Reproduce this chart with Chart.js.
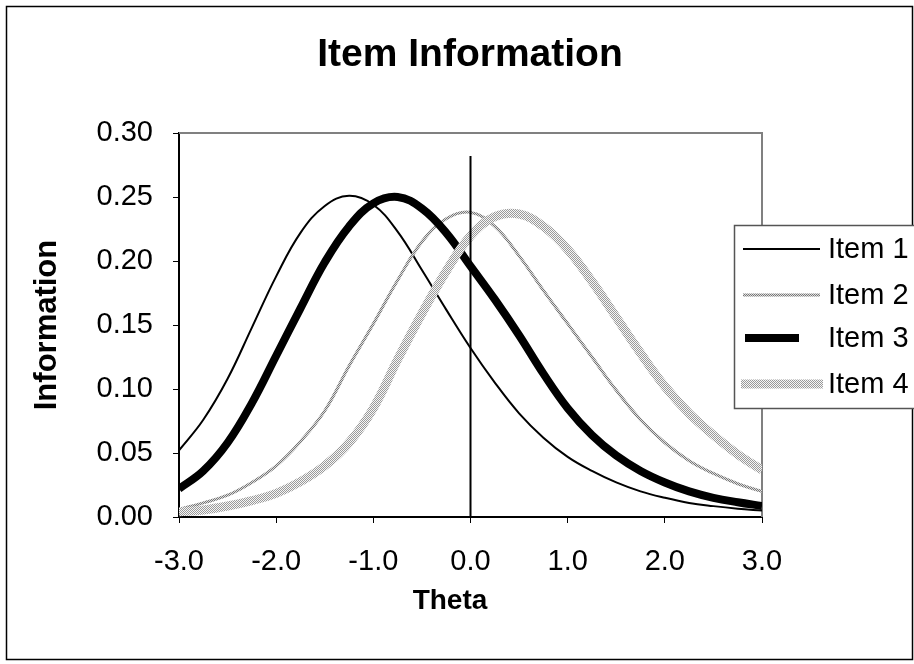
<!DOCTYPE html>
<html>
<head>
<meta charset="utf-8">
<title>Item Information</title>
<script src="https://cdn.jsdelivr.net/npm/chart.js@4/dist/chart.umd.min.js"></script>
<style>
  html, body { margin: 0; padding: 0; background: #fff; }
  canvas { display: block; }
</style>
</head>
<body>
<canvas id="infoChart" width="914" height="664"></canvas>
<script>
// Item information curves at theta steps of 0.25
const theta = [-3.0, -2.75, -2.5, -2.25, -2.0, -1.75, -1.5, -1.25, -1.0, -0.75, -0.5, -0.25,
               0.0, 0.25, 0.5, 0.75, 1.0, 1.25, 1.5, 1.75, 2.0, 2.25, 2.5, 2.75, 3.0];
const item1 = [0.052, 0.076, 0.108, 0.148, 0.188, 0.222, 0.243, 0.251, 0.244, 0.223, 0.193, 0.162,
               0.132, 0.105, 0.081, 0.062, 0.047, 0.036, 0.027, 0.020, 0.015, 0.011, 0.0085, 0.0065, 0.005];
const item2 = [0.006, 0.011, 0.017, 0.027, 0.040, 0.059, 0.083, 0.118, 0.151, 0.185, 0.215, 0.233,
               0.238, 0.227, 0.204, 0.177, 0.151, 0.125, 0.099, 0.076, 0.058, 0.044, 0.034, 0.026, 0.020];
const item3 = [0.022, 0.036, 0.058, 0.089, 0.126, 0.163, 0.199, 0.227, 0.245, 0.250, 0.241, 0.222,
               0.196, 0.170, 0.142, 0.112, 0.085, 0.064, 0.048, 0.036, 0.027, 0.020, 0.015, 0.0115, 0.0086];
const item4 = [0.004, 0.0055, 0.0086, 0.0128, 0.0185, 0.0276, 0.040, 0.058, 0.085, 0.123, 0.159, 0.192,
               0.2195, 0.2346, 0.2367, 0.227, 0.209, 0.184, 0.156, 0.128, 0.102, 0.081, 0.064, 0.049, 0.0367];
// vertical reference line at theta = 0
const refLineX = [0, 0];
const refLineY = [0, 0.282];

const seriesNames = ['Item 1', 'Item 2', 'Item 3', 'Item 4'];
const chartTitle = 'Item Information';
const xTitle = 'Theta';
const yTitle = 'Information';

const FONT = "'Liberation Sans', Arial, sans-serif";

// small dotted fill like Excel's patterned lines
function makePattern(dark, light) {
    const c = document.createElement('canvas');
    c.width = 2;
    c.height = 2;
    const g = c.getContext('2d');
    g.fillStyle = light;
    g.fillRect(0, 0, 2, 2);
    g.fillStyle = dark;
    g.fillRect(0, 0, 1, 1);
    g.fillRect(1, 1, 1, 1);
    return g.createPattern(c, 'repeat');
}

const pat2 = makePattern('#777777', '#dddddd');
const pat4 = makePattern('#9a9a9a', '#f6f6f6');

const styles = [
    { color: '#000000', width: 2, order: 4, sample: [743, 820] },
    { color: pat2, width: 3, order: 3, sample: [743, 820] },
    { color: '#000000', width: 8, order: 2, sample: [745, 799] },
    { color: pat4, width: 9, order: 1, sample: [741, 823] }
];

function toPoints(xs, ys) {
    return xs.map((x, i) => ({ x: x, y: ys[i] }));
}

const allSeries = [item1, item2, item3, item4];

const datasets = allSeries.map((vals, i) => ({
    label: seriesNames[i],
    data: toPoints(theta, vals),
    borderColor: styles[i].color,
    borderWidth: styles[i].width,
    order: styles[i].order,
    pointRadius: 0,
    tension: 0.4,
    fill: false
}));

datasets.push({
    label: 'ref',
    data: toPoints(refLineX, refLineY),
    borderColor: '#000000',
    borderWidth: 2,
    order: 0,
    pointRadius: 0,
    fill: false
});

// white background, outer frame, grey plot border
const framePlugin = {
    id: 'frame',
    beforeDraw(chart) {
        const ctx = chart.ctx;
        ctx.save();
        ctx.fillStyle = '#ffffff';
        ctx.fillRect(0, 0, chart.width, chart.height);
        ctx.strokeStyle = '#000000';
        ctx.lineWidth = 1.5;
        ctx.strokeRect(6.5, 6.5, 906, 653);
        ctx.restore();
    },
    beforeDatasetsDraw(chart) {
        const { ctx, chartArea } = chart;
        ctx.save();
        ctx.strokeStyle = '#808080';
        ctx.lineWidth = 2;
        ctx.beginPath();
        ctx.moveTo(chartArea.left, chartArea.top);
        ctx.lineTo(chartArea.right, chartArea.top);
        ctx.lineTo(chartArea.right, chartArea.bottom);
        ctx.stroke();
        ctx.restore();
    },
    afterDraw(chart) {
        const ctx = chart.ctx;
        ctx.save();
        ctx.fillStyle = '#000000';
        ctx.textAlign = 'center';
        ctx.textBaseline = 'middle';
        ctx.font = 'bold 39px ' + FONT;
        ctx.fillText(chartTitle, 470, 55);
        ctx.font = 'bold 28px ' + FONT;
        ctx.fillText(xTitle, 450, 601);
        ctx.translate(47, 325);
        ctx.rotate(-Math.PI / 2);
        ctx.font = 'bold 31px ' + FONT;
        ctx.fillText(yTitle, 0, 0);
        ctx.restore();
    }
};

// legend box that sits over the plot's right edge and runs off the canvas
const legendPlugin = {
    id: 'boxLegend',
    afterDraw(chart) {
        const ctx = chart.ctx;
        ctx.save();
        ctx.fillStyle = '#ffffff';
        ctx.fillRect(734, 225, 200, 184);
        ctx.strokeStyle = '#555555';
        ctx.lineWidth = 1.5;
        ctx.strokeRect(734.5, 225.5, 200, 183);
        const rows = [249, 295, 338, 384];
        ctx.font = '29px ' + FONT;
        ctx.textBaseline = 'middle';
        seriesNames.forEach((name, i) => {
            const s = styles[i];
            ctx.strokeStyle = s.color;
            ctx.lineWidth = s.width;
            ctx.beginPath();
            ctx.moveTo(s.sample[0], rows[i]);
            ctx.lineTo(s.sample[1], rows[i]);
            ctx.stroke();
            ctx.fillStyle = '#000000';
            ctx.fillText(name, 828, rows[i] + 1);
        });
        ctx.restore();
    }
};

new Chart(document.getElementById('infoChart'), {
    type: 'line',
    data: { datasets: datasets },
    options: {
        responsive: false,
        animation: false,
        layout: { padding: { top: 133, left: 0, right: 152, bottom: 0 } },
        plugins: {
            legend: { display: false },
            tooltip: { enabled: false },
            title: { display: false }
        },
        scales: {
            x: {
                type: 'linear',
                min: -3,
                max: 3,
                afterFit(scale) { scale.height = 147; },
                ticks: {
                    stepSize: 1,
                    color: '#000000',
                    padding: 22,
                    maxRotation: 0,
                    font: { family: FONT, size: 29 },
                    callback: v => v.toFixed(1)
                },
                grid: { drawOnChartArea: false, drawTicks: true, tickLength: 6, color: '#000000', lineWidth: 1 },
                border: { color: '#000000', width: 2 }
            },
            y: {
                type: 'linear',
                min: 0,
                max: 0.30,
                afterFit(scale) { scale.width = 179; },
                ticks: {
                    stepSize: 0.05,
                    color: '#000000',
                    padding: 20,
                    font: { family: FONT, size: 29 },
                    callback: v => v.toFixed(2)
                },
                grid: { drawOnChartArea: false, drawTicks: true, tickLength: 6, color: '#000000', lineWidth: 1 },
                border: { color: '#000000', width: 2 }
            }
        }
    },
    plugins: [framePlugin, legendPlugin]
});
</script>
</body>
</html>
